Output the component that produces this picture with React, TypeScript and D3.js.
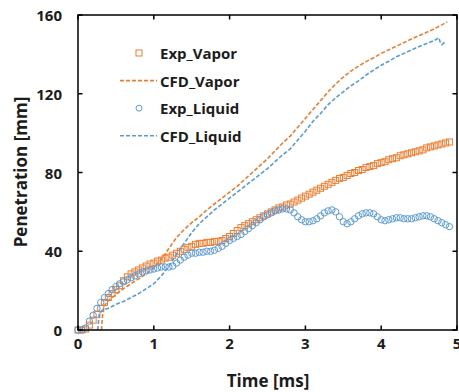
import React from "react";
import * as d3 from "d3";

const W = 459;
const H = 392;

const xTicks = [0, 1, 2, 3, 4, 5];
const yTicks = [0, 40, 80, 120, 160];

const expStep = 0.05;
const expVapor = [
  0, 0, 0.5, 2.5, 5, 8, 11, 14, 16.5, 18.5,
  20.5, 22.5, 25, 27, 28.5, 29.5, 30.5, 31.5, 32.5, 33.5,
  34, 35, 35.5, 36.5, 37, 38, 39, 40, 41, 42,
  42.5, 43.5, 44, 44, 44.5, 44.5, 45, 45, 45.5, 46.5,
  47.5, 49, 50.5, 52, 53, 54, 55, 56, 57, 58,
  59, 60, 61, 62, 62.5, 63.5, 64, 65, 66, 67,
  68, 69, 70, 71, 72, 73, 74, 75, 76, 77,
  77.5, 78.5, 79.5, 80, 81, 81.5, 82.5, 83, 83.5, 84.5,
  85, 85.5, 86.5, 87, 87.5, 88.5, 89, 89.5, 90, 90.5,
  91, 91.5, 92.5, 93, 93.5, 94, 94.5, 95, 95.5,
];
const expLiquid = [
  0, 0, 1, 4.5, 7.5, 11, 14, 16.5, 18.5, 20.5,
  22, 23.5, 24.5, 25.5, 26.5, 27.5, 28.5, 29.5, 30, 30.5,
  31, 31.5, 32, 32, 32, 32.5, 34, 35.5, 37, 38,
  39, 39, 39.5, 39.5, 40, 40, 40.5, 41.5, 42.5, 44,
  45.5, 46.5, 47.5, 48.5, 50, 51.5, 53, 54.5, 56, 57.5,
  58.5, 59.5, 60.5, 61, 61.5, 61.5, 61, 59.5, 57.5, 56,
  55, 55, 55.5, 56.5, 58, 59.5, 60.5, 61, 60, 57.5,
  55, 54, 55, 56.5, 58, 59, 59.5, 59.5, 59, 57.5,
  56, 55.5, 56, 56.5, 57, 57, 56.5, 56.5, 56.5, 57,
  57.5, 58, 58, 57.5, 56.5, 55.5, 54.5, 53.5, 52.5,
];

const cfdVaporT = [0.31, 0.32, 0.34, 0.4, 0.5, 0.6, 0.7, 0.8, 0.9, 1.0, 1.1, 1.2, 1.3, 1.4, 1.5, 1.6, 1.7, 1.8, 1.9, 2.0, 2.1, 2.2, 2.3, 2.4, 2.5, 2.6, 2.7, 2.8, 2.9, 3.0, 3.1, 3.2, 3.3, 3.4, 3.5, 3.6, 3.7, 3.8, 3.9, 4.0, 4.1, 4.2, 4.3, 4.4, 4.5, 4.6, 4.7, 4.8, 4.87];
const cfdVaporV = [0, 6, 12, 15, 18, 21, 23.5, 26, 28.5, 31.5, 36, 41.5, 47, 51, 54.5, 57.5, 61, 64, 67, 70, 73, 76.5, 80, 83.5, 87, 91, 95, 98.5, 103, 107.5, 112, 116.5, 121, 125, 128.5, 131.5, 134, 136.3, 138.3, 140.5, 142.3, 144.2, 146, 147.8, 149.6, 151.2, 153, 155, 156.5];

const cfdLiquidT = [0.26, 0.28, 0.32, 0.4, 0.5, 0.6, 0.7, 0.8, 0.9, 1.0, 1.1, 1.2, 1.3, 1.4, 1.5, 1.6, 1.7, 1.8, 1.9, 2.0, 2.1, 2.2, 2.3, 2.4, 2.5, 2.6, 2.7, 2.8, 2.9, 3.0, 3.1, 3.2, 3.3, 3.4, 3.5, 3.6, 3.7, 3.8, 3.9, 4.0, 4.1, 4.2, 4.3, 4.4, 4.5, 4.6, 4.7, 4.76, 4.78, 4.8, 4.85];
const cfdLiquidV = [0, 8, 10, 11, 13, 14.5, 16.5, 18.5, 21, 23.5, 27.5, 32.5, 38.5, 44, 49.5, 54, 57.5, 61, 64, 67, 70, 73, 76, 79, 82, 85.5, 89, 92, 96.5, 101, 106, 110, 114.5, 118, 121, 124, 126.5, 129.5, 132, 134.5, 136.5, 138.8, 140.5, 142.3, 144, 145.5, 147, 148.5, 146, 145, 146.5];

const legendLabels = ["Exp_Vapor", "CFD_Vapor", "Exp_Liquid", "CFD_Liquid"];
const legendKinds = ["square", "dash", "circle", "dash"];

const ORANGE = "#ED7D31";
const BLUE = "#5B9BD5";
const legendColors = [ORANGE, ORANGE, BLUE, BLUE];
const FONT = "'Open Sans', 'Noto Sans', sans-serif";
const TEXT = "#1c1c1c";

export default function App() {
  const x = d3.scaleLinear().domain([0, 5]).range([78, 457]);
  const y = d3.scaleLinear().domain([0, 160]).range([330, 15]);

  const line = d3
    .line<[number, number]>()
    .x((d) => x(d[0]))
    .y((d) => y(d[1]));

  const vaporPts = expVapor.map((v, i) => [i * expStep, v] as [number, number]);
  const liquidPts = expLiquid.map((v, i) => [i * expStep, v] as [number, number]);
  const cfdV = cfdVaporT.map((t, i) => [t, cfdVaporV[i]] as [number, number]);
  const cfdL = cfdLiquidT.map((t, i) => [t, cfdLiquidV[i]] as [number, number]);

  const left = x(0);
  const right = x(5);
  const top = y(160);
  const bottom = y(0);
  const tickLen = 4.5;

  return (
    <svg
      width={W}
      height={H}
      style={{ position: "absolute", left: 0, top: 0, background: "#fff" }}
      fontFamily={FONT}
    >
      <rect x={0} y={0} width={W} height={H} fill="#fff" />
      <g>
        {vaporPts.map((d, i) => (
          <rect
            key={"s" + i}
            x={x(d[0]) - 3}
            y={y(d[1]) - 3}
            width={6}
            height={6}
            fill="none"
            stroke={ORANGE}
            strokeWidth={1}
          />
        ))}
        <path d={line(cfdV) || ""} fill="none" stroke={ORANGE} strokeWidth={1.6} strokeDasharray="4,2" />
        {liquidPts.map((d, i) => (
          <circle
            key={"c" + i}
            cx={x(d[0])}
            cy={y(d[1])}
            r={3.2}
            fill="none"
            stroke={BLUE}
            strokeWidth={1}
          />
        ))}
        <path d={line(cfdL) || ""} fill="none" stroke={BLUE} strokeWidth={1.6} strokeDasharray="4,2" />
      </g>
      <rect x={left} y={top} width={right - left} height={bottom - top} fill="none" stroke="#000" strokeWidth={1.5} />
      {xTicks.map((t) => (
        <g key={"xt" + t}>
          <line x1={x(t)} x2={x(t)} y1={bottom} y2={bottom - tickLen} stroke="#000" strokeWidth={1.5} />
          <line x1={x(t)} x2={x(t)} y1={top} y2={top + tickLen} stroke="#000" strokeWidth={1.5} />
          <text x={x(t)} y={343} textAnchor="middle" dominantBaseline="central" fontSize={15} fontWeight="bold" fill={TEXT}>
            {t}
          </text>
        </g>
      ))}
      {yTicks.map((t) => (
        <g key={"yt" + t}>
          <line x1={left} x2={left + tickLen} y1={y(t)} y2={y(t)} stroke="#000" strokeWidth={1.5} />
          <line x1={right} x2={right - tickLen} y1={y(t)} y2={y(t)} stroke="#000" strokeWidth={1.5} />
          <text x={62} y={y(t)} textAnchor="end" dominantBaseline="central" fontSize={15} fontWeight="bold" fill={TEXT}>
            {t}
          </text>
        </g>
      ))}
      <text x={268} y={380} textAnchor="middle" dominantBaseline="central" fontSize={17} fontWeight="bold" fill={TEXT}>
        Time [ms]
      </text>
      <text
        transform={`translate(20,172) rotate(-90)`}
        textAnchor="middle"
        dominantBaseline="central"
        fontSize={17}
        fontWeight="bold"
        fill={TEXT}
      >
        Penetration [mm]
      </text>
      {legendLabels.map((label, i) => {
        const cy = 53 + i * 27.6;
        const kind = legendKinds[i];
        const color = legendColors[i];
        return (
          <g key={label}>
            {kind === "square" && (
              <rect x={136} y={cy - 3} width={6} height={6} fill="none" stroke={color} strokeWidth={1} />
            )}
            {kind === "circle" && <circle cx={139} cy={cy} r={3} fill="none" stroke={color} strokeWidth={1} />}
            {kind === "dash" && (
              <line x1={120} x2={157} y1={cy} y2={cy} stroke={color} strokeWidth={1.6} strokeDasharray="4,2" />
            )}
            <text x={160} y={cy} dominantBaseline="central" fontSize={15} fontWeight="bold" fill={TEXT}>
              {label}
            </text>
          </g>
        );
      })}
    </svg>
  );
}
